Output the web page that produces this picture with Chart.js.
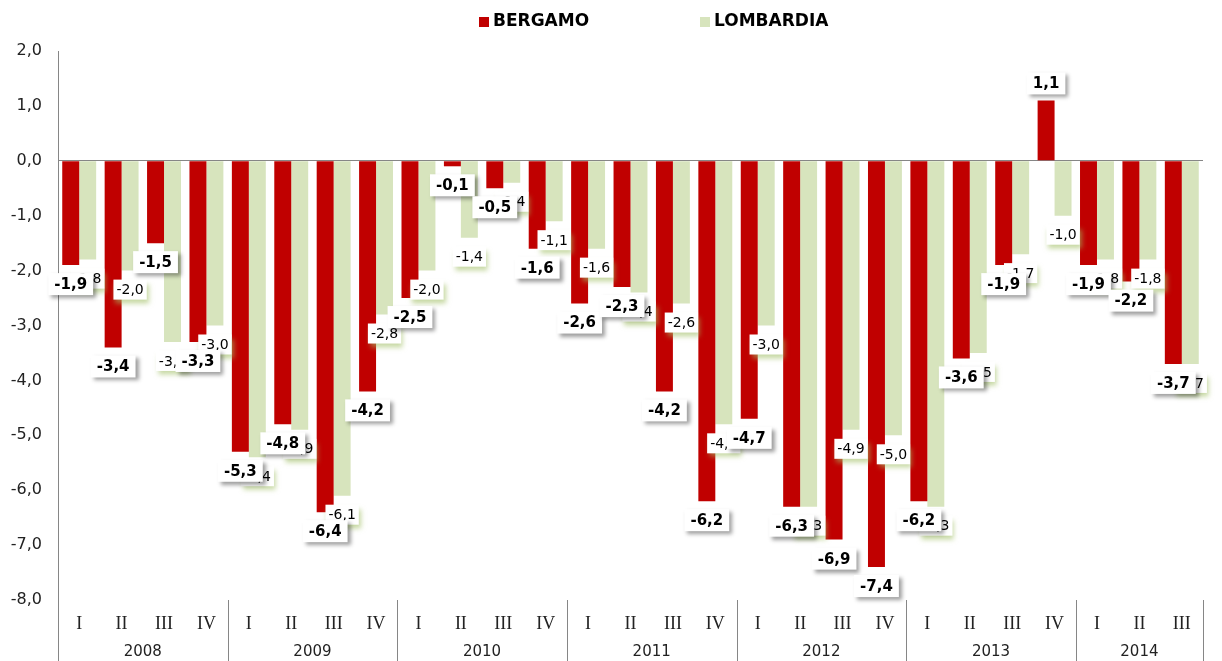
<!DOCTYPE html>
<html>
<head>
<meta charset="utf-8">
<script src="https://cdn.jsdelivr.net/npm/chart.js@4.4.1/dist/chart.umd.min.js"></script>
<style>
  html, body { margin: 0; padding: 0; background: #fff; }
  #wrap { width: 1222px; height: 661px; position: relative; }
</style>
</head>
<body>
<div id="wrap"><canvas id="grafico"></canvas></div>
<script>
// trimestri 2008 - 2014 (III)
const trimestri = [
  'I','II','III','IV', 'I','II','III','IV', 'I','II','III','IV',
  'I','II','III','IV', 'I','II','III','IV', 'I','II','III','IV',
  'I','II','III'
];
const anni = [
  '2008','2008','2008','2008', '2009','2009','2009','2009', '2010','2010','2010','2010',
  '2011','2011','2011','2011', '2012','2012','2012','2012', '2013','2013','2013','2013',
  '2014','2014','2014'
];
const bergamo = [
  -1.9, -3.4, -1.5, -3.3,  -5.3, -4.8, -6.4, -4.2,  -2.5, -0.1, -0.5, -1.6,
  -2.6, -2.3, -4.2, -6.2,  -4.7, -6.3, -6.9, -7.4,  -6.2, -3.6, -1.9, 1.1,
  -1.9, -2.2, -3.7
];
const lombardia = [
  -1.8, -2.0, -3.3, -3.0,  -5.4, -4.9, -6.1, -2.8,  -2.0, -1.4, -0.4, -1.1,
  -1.6, -2.4, -2.6, -4.8,  -3.0, -6.3, -4.9, -5.0,  -6.3, -3.5, -1.7, -1.0,
  -1.8, -1.8, -3.7
];

const ROSSO = '#C00000';
const VERDE = '#D7E4BD';
const FONT = '"DejaVu Sans", Verdana, sans-serif';

const fmt = v => v.toFixed(1).replace('.', ',');

// etichette dei valori con riquadro bianco e ombra
const etichette = {
  id: 'etichette',
  afterDatasetsDraw(chart) {
    const ctx = chart.ctx;
    const stileB = { font: 'bold 15px ' + FONT, h: 22, pad: 6, shadow: 'rgba(0,0,0,0.38)', ox: 3, oy: 3, blur: 4 };
    const stileL = { font: '14px ' + FONT, h: 20, pad: 3, shadow: 'rgba(160,190,100,0.6)', ox: 2, oy: 4, blur: 5 };
    // prima Lombardia, poi Bergamo sopra
    [1, 0].forEach(di => {
      const st = di === 0 ? stileB : stileL;
      const meta = chart.getDatasetMeta(di);
      const valori = chart.data.datasets[di].data;
      meta.data.forEach((bar, i) => {
        const v = valori[i];
        const testo = fmt(v);
        ctx.save();
        ctx.font = st.font;
        const w = ctx.measureText(testo).width + st.pad * 2;
        const cy = v < 0 ? bar.y + 19 : bar.y - 17;
        const x0 = bar.x - w / 2, y0 = cy - st.h / 2;
        ctx.shadowColor = st.shadow;
        ctx.shadowOffsetX = st.ox;
        ctx.shadowOffsetY = st.oy;
        ctx.shadowBlur = st.blur;
        ctx.fillStyle = '#fff';
        ctx.fillRect(x0, y0, w, st.h);
        ctx.shadowColor = 'transparent';
        ctx.fillStyle = '#000';
        ctx.textAlign = 'center';
        ctx.textBaseline = 'middle';
        ctx.fillText(testo, bar.x, cy + 1);
        ctx.restore();
      });
    });
  }
};

// anni sotto i trimestri, separatori e legenda
const assi = {
  id: 'assi',
  afterDraw(chart) {
    const ctx = chart.ctx;
    const xs = chart.scales.x;
    const area = chart.chartArea;
    const passo = xs.getPixelForValue(1) - xs.getPixelForValue(0);
    const fondo = chart.height;
    ctx.save();
    ctx.strokeStyle = '#868686';
    ctx.lineWidth = 1;
    ctx.beginPath();
    ctx.moveTo(Math.round(area.left) + 0.5, area.bottom);
    ctx.lineTo(Math.round(area.left) + 0.5, fondo);
    ctx.stroke();
    ctx.font = '15px ' + FONT;
    ctx.fillStyle = '#222';
    ctx.textAlign = 'center';
    ctx.textBaseline = 'middle';
    let inizio = 0;
    for (let i = 1; i <= anni.length; i++) {
      if (i === anni.length || anni[i] !== anni[inizio]) {
        const sx = xs.getPixelForValue(inizio) - passo / 2;
        const dx = xs.getPixelForValue(i - 1) + passo / 2;
        ctx.fillText(anni[inizio], (sx + dx) / 2, 652);
        ctx.beginPath();
        ctx.moveTo(Math.round(dx) + 0.5, area.bottom);
        ctx.lineTo(Math.round(dx) + 0.5, fondo);
        ctx.stroke();
        inizio = i;
      }
    }
    // legenda
    ctx.font = 'bold 17px ' + FONT;
    ctx.textAlign = 'left';
    const posX = [479, 700];
    chart.data.datasets.forEach((ds, k) => {
      const x = posX[k];
      ctx.fillStyle = ds.backgroundColor;
      ctx.fillRect(x, 17, 10, 10);
      ctx.fillStyle = '#000';
      ctx.fillText(ds.label, x + 14, 22);
    });
    ctx.restore();
  }
};

new Chart(document.getElementById('grafico'), {
  type: 'bar',
  data: {
    labels: trimestri,
    datasets: [
      { label: 'BERGAMO', data: bergamo, backgroundColor: ROSSO, borderWidth: 0 },
      { label: 'LOMBARDIA', data: lombardia, backgroundColor: VERDE, borderWidth: 0 }
    ]
  },
  options: {
    responsive: true,
    maintainAspectRatio: false,
    animation: false,
    datasets: { bar: { categoryPercentage: 0.8, barPercentage: 1.0 } },
    layout: { padding: { top: 51, left: 10, right: 19, bottom: 29 } },
    plugins: { legend: { display: false }, tooltip: { enabled: false } },
    scales: {
      x: {
        afterFit: s => { s.height = 32; },
        grid: { display: false, drawTicks: false },
        border: { display: false },
        ticks: {
          autoSkip: false, maxRotation: 0, padding: 13, color: '#222',
          font: { family: '"Liberation Serif", "Times New Roman", serif', size: 18 }
        }
      },
      y: {
        min: -8, max: 2,
        afterFit: s => { s.width = 48; },
        grid: {
          drawTicks: false,
          color: c => (c.tick && c.tick.value === 0 ? '#868686' : 'rgba(0,0,0,0)')
        },
        border: { display: true, color: '#868686' },
        ticks: {
          stepSize: 1, padding: 16, color: '#222',
          font: { family: FONT, size: 16 },
          callback: v => fmt(v)
        }
      }
    }
  },
  plugins: [etichette, assi]
});
</script>
</body>
</html>
